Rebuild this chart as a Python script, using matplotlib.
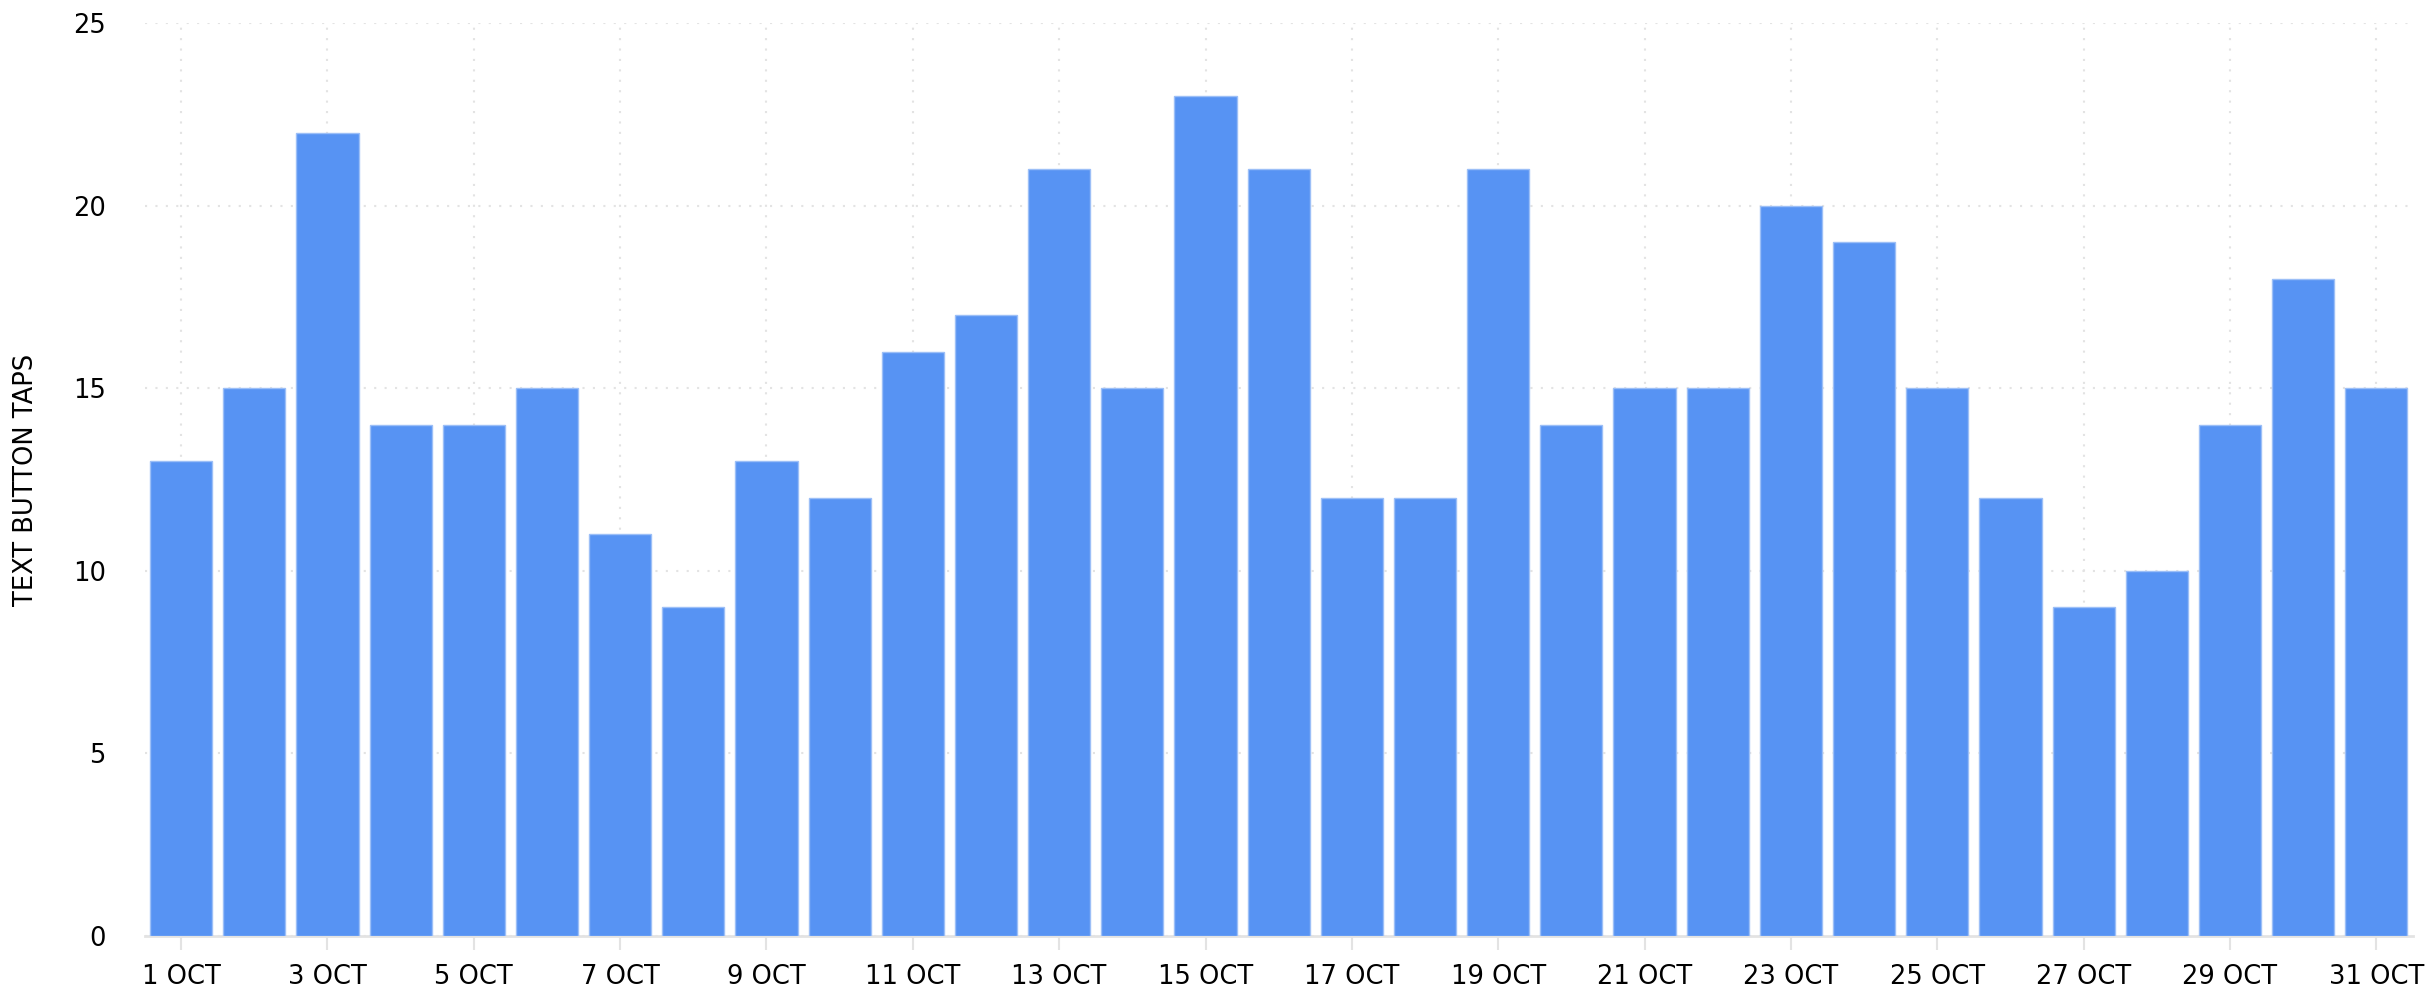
import numpy as np
import matplotlib
matplotlib.use('Agg')
import matplotlib.pyplot as plt

# Daily taps on the text button, October
DAYS = list(range(1, 32))
TAPS = [13, 15, 22, 14, 14, 15, 11, 9, 13, 12, 16, 17, 21, 15, 23, 21,
        12, 12, 21, 14, 15, 15, 20, 19, 15, 12, 9, 10, 14, 18, 15]
TICK_LABELS = [f"{d} OCT" for d in DAYS]

BAR_COLOR = "#5793f3"
GRID_COLOR = "#e3e3e3"

plt.rcParams['font.family'] = ['DejaVu Sans']

fig = plt.figure(figsize=(24.25, 10), dpi=100)
ax = fig.add_axes([0.0596, 0.064, 0.9354, 0.913])

x = np.arange(len(DAYS))
ax.bar(x, TAPS, width=0.85, color=BAR_COLOR, edgecolor="#9cbff7",
       linewidth=1.0, zorder=3)

ax.set_xlim(-0.5, len(DAYS) - 0.5)
ax.set_ylim(0, 25)
ax.set_yticks(np.arange(0, 26, 5))
ax.set_xticks(x[::2])
ax.set_xticklabels(TICK_LABELS[::2])

ax.tick_params(axis="x", length=10, width=1.5, color=GRID_COLOR,
               labelsize=18.5, pad=10)
ax.tick_params(axis="y", length=0, labelsize=18.5, pad=28)

ax.grid(True, linestyle=(0, (1, 4)), color=GRID_COLOR, linewidth=1.5, zorder=0)
ax.set_axisbelow(True)

for side in ("left", "right", "top"):
    ax.spines[side].set_visible(False)
ax.spines["bottom"].set_color(GRID_COLOR)
ax.spines["bottom"].set_linewidth(2)

ax.set_ylabel("TEXT BUTTON TAPS", fontsize=18.5, labelpad=24)

fig.savefig("out.png", dpi=100)
plt.close(fig)
